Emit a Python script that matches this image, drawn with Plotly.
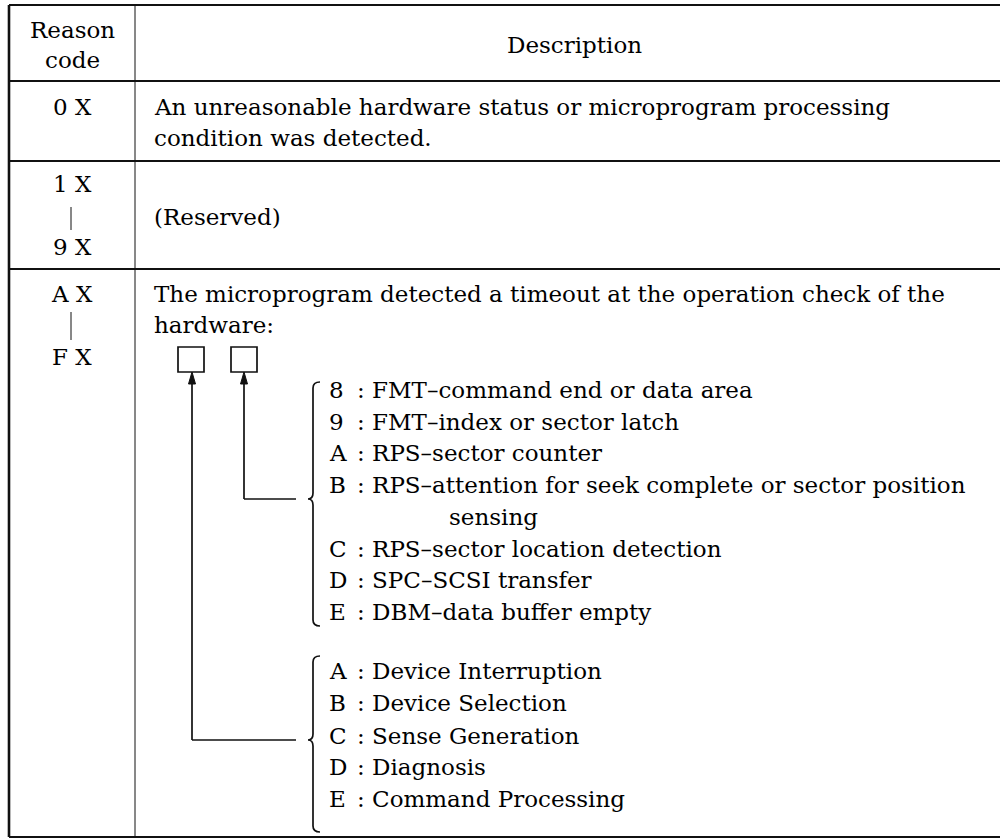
import plotly.graph_objects as go

# ---------------- data (text content of the table) ----------------
header_code = ["Reason", "code"]
header_desc = "Description"

row1_code = ["0 X"]
row1_desc = ["An unreasonable hardware status or microprogram processing",
             "condition was detected."]

row2_code = ["1 X", "|", "9 X"]
row2_desc = ["(Reserved)"]

row3_code = ["A X", "|", "F X"]
row3_desc = ["The microprogram detected a timeout at the operation check of the",
             "hardware:"]

list1_keys = ["8", "9", "A", "B", "", "C", "D", "E"]
list1_text = [": FMT\u2013command end or data area",
              ": FMT\u2013index or sector latch",
              ": RPS\u2013sector counter",
              ": RPS\u2013attention for seek complete or sector position",
              "sensing",
              ": RPS\u2013sector location detection",
              ": SPC\u2013SCSI transfer",
              ": DBM\u2013data buffer empty"]

list2_keys = ["A", "B", "C", "D", "E"]
list2_text = [": Device Interruption",
              ": Device Selection",
              ": Sense Generation",
              ": Diagnosis",
              ": Command Processing"]

# ---------------- layout helpers ----------------
FONT = dict(family="DejaVu Serif", size=23, color="#000000")
INK = "#111111"

fig = go.Figure()
fig.add_trace(go.Scatter(x=[0, 1000], y=[0, 839], mode="markers",
                         marker=dict(opacity=0), hoverinfo="skip", showlegend=False))

ann = []
def text(x, y, s, anchor="left"):
    ann.append(dict(x=x, y=y, text=s, xref="x", yref="y", showarrow=False,
                    xanchor=anchor, yanchor="middle", font=FONT))

shapes = []
def line(x0, y0, x1, y1, w=2):
    shapes.append(dict(type="line", x0=x0, y0=y0, x1=x1, y1=y1, xref="x", yref="y",
                       line=dict(color=INK, width=w)))

def path(d, w=1.5, fill=None):
    s = dict(type="path", path=d, xref="x", yref="y", line=dict(color=INK, width=w))
    if fill:
        s["fillcolor"] = fill
    shapes.append(s)

def brace(x, ytop, ymid, ybot, r=6):
    # left-pointing curly brace; x is the vertical stroke position
    d = (f"M {x+7},{ytop} Q {x},{ytop} {x},{ytop+r} "
         f"L {x},{ymid-r} Q {x},{ymid} {x-5},{ymid} "
         f"Q {x},{ymid} {x},{ymid+r} "
         f"L {x},{ybot-r} Q {x},{ybot} {x+7},{ybot}")
    path(d, w=1.7)

# ---------------- table grid ----------------
XL, XC, XR = 9, 135, 1010
for y in [5, 81, 161, 269]:
    line(XL, y, XR, y, w=2.2)
line(XL, 837, XR, 837, w=2)
line(XL, 5, XL, 837, w=2.6)
line(XC, 5, XC, 837, w=1)

# ---------------- header ----------------
text(72, 30, header_code[0], "center")
text(72, 60, header_code[1], "center")
text(574, 45, header_desc, "center")

# ---------------- row 1 ----------------
text(72, 107, row1_code[0], "center")
for i, s in enumerate(row1_desc):
    text(152, 107 + 31 * i, s)

# ---------------- row 2 ----------------
for y, s in zip([184, 218, 247], row2_code):
    if s == "|":
        line(71, 207, 71, 230, w=1)
    else:
        text(72, y, s, "center")
text(152, 217, row2_desc[0])

# ---------------- row 3 ----------------
for y, s in zip([294, 326, 357], row3_code):
    if s == "|":
        line(71, 312, 71, 340, w=1)
    else:
        text(72, y, s, "center")
for i, s in enumerate(row3_desc):
    text(152, 294 + 31 * i, s)

# boxes
for x0 in [178, 231]:
    shapes.append(dict(type="rect", x0=x0, x1=x0 + 26, y0=347, y1=372, xref="x", yref="y",
                       line=dict(color=INK, width=1.7)))
# arrows
for xa, yb in [(192, 740), (244, 499)]:
    line(xa, 383, xa, yb, w=1.7)
    line(xa, yb, 296, yb, w=1.7)
    path(f"M {xa},372 L {xa-3.5},384 L {xa+3.5},384 Z", w=1, fill=INK)

# braces
brace(313, 382, 499, 626)
brace(313, 656, 740, 832)

# list 1
l1_y = [390, 422, 453, 485, 517, 549, 580, 612]
for y, k, s in zip(l1_y, list1_keys, list1_text):
    if k:
        text(327, y, k)
        text(355, y, s)
    else:
        text(447, y, s)

# list 2
l2_y = [671, 703, 736, 767, 799]
for y, k, s in zip(l2_y, list2_keys, list2_text):
    text(327, y, k)
    text(355, y, s)

fig.update_layout(
    width=1000, height=839,
    margin=dict(l=0, r=0, t=0, b=0),
    paper_bgcolor="white", plot_bgcolor="white",
    xaxis=dict(range=[0, 1000], visible=False, fixedrange=True),
    yaxis=dict(range=[839, 0], visible=False, fixedrange=True),
    annotations=ann, shapes=shapes, showlegend=False,
)
fig.write_html("out.html",
               config={"displayModeBar": False, "staticPlot": True},
               post_script="document.body.style.margin='0';document.body.style.overflow='hidden';")
